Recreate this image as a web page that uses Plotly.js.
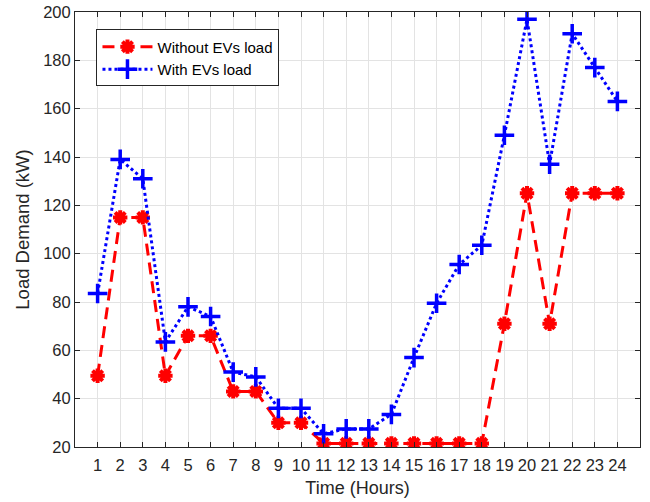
<!DOCTYPE html>
<html>
<head>
<meta charset="utf-8">
<script src="https://cdn.plot.ly/plotly-3.0.1.min.js"></script>
<style>html,body{margin:0;padding:0;background:#fff;}#chart{width:650px;height:502px;}</style>
</head>
<body>
<div id="chart"></div>
<script>
var hours = [1,2,3,4,5,6,7,8,9,10,11,12,13,14,15,16,17,18,19,20,21,22,23,24];
var withoutEV = [49.5,115,115,49.5,66,66,43,43,30,30,21.5,21.5,21.5,21.5,21.5,21.5,21.5,21.5,71,125,71,125,125,125];
var withEV = [83.5,139,131,63.5,78,74,51,49,36,36,25.5,27.5,27.5,33.5,57,79.5,95.5,103.5,149,197,137,191,177,163];
var seriesNames = ['Without EVs load', 'With EVs load'];
var yTicks = [20,40,60,80,100,120,140,160,180,200];

var font = 'Liberation Sans, Arial, Helvetica, sans-serif';
var textColor = '#262626';

var traces = [
  {
    x: hours, y: withoutEV, name: seriesNames[0], type: 'scatter', mode: 'lines+markers',
    line: {color: '#ff0000', width: 3, dash: '12px,7px'},
    marker: {symbol: 'asterisk-open', size: 12, color: '#ff0000', line: {color: '#ff0000', width: 4}}
  },
  {
    x: hours, y: withEV, name: seriesNames[1], type: 'scatter', mode: 'lines+markers',
    line: {color: '#0000ff', width: 3, dash: 'dot'},
    marker: {symbol: 'cross-thin-open', size: 14, color: '#0000ff', line: {color: '#0000ff', width: 3.5}}
  }
];

var axisCommon = {
  showline: true, mirror: 'ticks', linecolor: textColor, linewidth: 1,
  ticks: 'inside', ticklen: 5, tickcolor: textColor, tickwidth: 1,
  showgrid: true, gridcolor: '#e3e3e3', gridwidth: 1, zeroline: false,
  tickfont: {family: font, size: 16.5, color: textColor}
};

var layout = {
  width: 650, height: 502,
  margin: {l: 75, r: 10, t: 12, b: 55},
  paper_bgcolor: '#ffffff', plot_bgcolor: '#ffffff',
  font: {family: font, color: textColor},
  showlegend: true,
  legend: {
    x: 0.038, y: 0.96, xanchor: 'left', yanchor: 'top',
    bgcolor: '#ffffff', bordercolor: textColor, borderwidth: 1,
    font: {family: font, size: 15, color: '#000000'},
    itemwidth: 50, tracegroupgap: 0
  },
  xaxis: Object.assign({}, axisCommon, {
    range: [0, 25], tickmode: 'array', tickvals: hours, ticktext: hours.map(String),
    ticklabelstandoff: 3,
    title: {text: 'Time (Hours)', font: {family: font, size: 18, color: textColor}, standoff: 8}
  }),
  yaxis: Object.assign({}, axisCommon, {
    range: [20, 200], tickmode: 'array', tickvals: yTicks, ticktext: yTicks.map(String),
    title: {text: 'Load Demand (kW)', font: {family: font, size: 18.5, color: textColor}, standoff: 8}
  })
};

Plotly.newPlot('chart', traces, layout, {displayModeBar: false, staticPlot: true});
</script>
</body>
</html>
